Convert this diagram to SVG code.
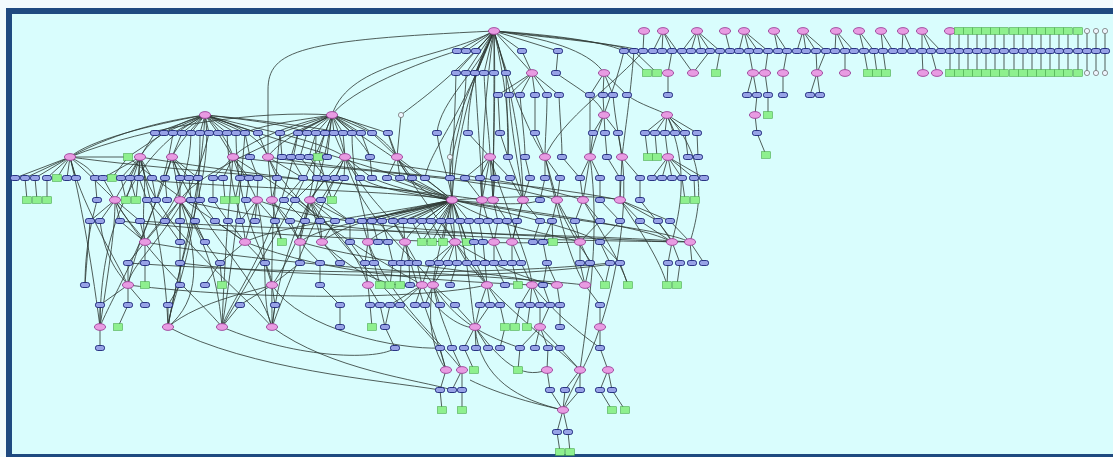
<svg xmlns="http://www.w3.org/2000/svg" xmlns:xlink="http://www.w3.org/1999/xlink" width="1113" height="457" viewBox="0 0 1113 457">
<defs>
<ellipse id="p" rx="5.6" ry="3.4" fill="#e89be2" stroke="#93368f" stroke-width="0.8"/>
<rect id="b" x="-4.6" y="-2.5" width="9.2" height="5" rx="2.3" fill="#97a2e6" stroke="#1a2478" stroke-width="0.9"/>
<rect id="g" x="-4.4" y="-3.3" width="8.8" height="6.6" fill="#8ef08e" stroke="#48aa48" stroke-width="0.6"/>
<circle id="c" r="2.6" fill="#eef6ff" stroke="#666" stroke-width="0.7"/>
</defs>
<rect x="0" y="0" width="1113" height="457" fill="#f2fbfd"/>
<rect x="12" y="14" width="1101" height="440" fill="#d9fdfd"/>
<rect x="6" y="8" width="1107" height="6" fill="#1f4a80"/>
<rect x="6" y="8" width="6" height="449" fill="#1f4a80"/>
<rect x="6" y="454" width="1107" height="3" fill="#1f4a80"/>
<g id="connectors" fill="none" stroke="#2c3833" stroke-width="0.9" stroke-opacity="0.9">
<path d="M494 31 L457 51"/><path d="M494 31 L466 51"/><path d="M494 31 L476 51"/><path d="M494 31 L522 51"/><path d="M494 31 L558 51"/>
<path d="M494 31 L456 73"/><path d="M494 31 L466 73"/><path d="M494 31 L475 73"/><path d="M494 31 L484 73"/><path d="M494 31 L494 73"/><path d="M494 31 L506 73"/><path d="M494 31 L532 73"/>
<path d="M494 31 C540 34 600 40 624 51"/><path d="M494 31 C545 36 610 42 634 51"/><path d="M494 31 C550 38 620 44 643 51"/><path d="M494 31 C560 40 592 55 604 73"/>
<path d="M494 31 C470 80 455 150 452 200"/><path d="M494 31 C485 90 482 150 482 200"/><path d="M494 31 C496 100 493 150 493 200"/><path d="M494 31 C505 80 510 120 508 157"/>
<path d="M494 31 C480 70 440 100 437 133"/><path d="M494 31 C476 60 468 100 468 133"/><path d="M494 31 C515 100 523 160 523 200"/><path d="M494 31 C460 120 430 150 425 178"/>
<path d="M494 31 C450 80 420 100 401 115"/><path d="M494 31 C520 120 540 150 545 157"/><path d="M494 31 C300 40 268 50 268 90 L268 157"/><path d="M494 31 C440 60 350 60 332 115"/>
<path d="M494 31 C460 110 450 140 450 157"/><path d="M457 51 C420 62 350 90 332 115"/>
<path d="M522 51 L532 73"/><path d="M558 51 L556 73"/>
<path d="M456 73 C455 120 452 160 452 200"/><path d="M466 73 C466 120 450 150 450 178"/><path d="M475 73 C478 130 482 170 482 200"/><path d="M484 73 C486 120 490 140 490 157"/><path d="M494 73 C494 130 493 170 493 200"/><path d="M506 73 C507 110 508 140 508 157"/>
<path d="M532 73 L498 95"/><path d="M532 73 L509 95"/><path d="M532 73 L520 95"/><path d="M532 73 L535 95"/><path d="M532 73 L547 95"/><path d="M532 73 L559 95"/>
<path d="M556 73 C580 90 600 100 604 115"/>
<path d="M604 73 L590 95"/><path d="M604 73 L603 95"/><path d="M604 73 L613 95"/><path d="M604 73 L627 95"/>
<path d="M498 95 L500 133"/><path d="M509 95 C512 140 520 170 523 200"/><path d="M520 95 C522 120 525 140 525 157"/><path d="M535 95 L535 133"/><path d="M547 95 C547 120 545 140 545 157"/><path d="M559 95 C560 120 562 140 562 157"/>
<path d="M590 95 C590 120 590 140 590 157"/><path d="M603 95 L604 115"/><path d="M613 95 C615 120 620 140 622 157"/><path d="M627 95 C640 105 660 110 667 115"/>
<path d="M604 115 L593 133"/><path d="M604 115 L605 133"/><path d="M604 115 L618 133"/>
<path d="M593 133 L590 157"/><path d="M605 133 L607 157"/><path d="M618 133 L622 157"/>
<path d="M667 115 L645 133"/><path d="M667 115 L655 133"/><path d="M667 115 L665 133"/><path d="M667 115 L675 133"/><path d="M667 115 L685 133"/><path d="M667 115 L697 133"/>
<path d="M645 133 L648 157"/><path d="M655 133 L657 157"/><path d="M665 133 L668 157"/><path d="M685 133 L688 157"/><path d="M697 133 L698 157"/>
<path d="M668 157 L652 178"/><path d="M668 157 L662 178"/><path d="M668 157 L672 178"/><path d="M668 157 L682 178"/><path d="M668 157 L694 178"/><path d="M668 157 L704 178"/>
<path d="M682 178 L685 200"/><path d="M694 178 L695 200"/>
<path d="M667 115 C710 160 700 210 690 242"/><path d="M667 115 C690 170 680 210 672 242"/>
<path d="M644 31 L643 51"/>
<path d="M663 31 L653 51"/><path d="M663 31 L662 51"/><path d="M663 31 L672 51"/><path d="M663 31 L693 73"/><path d="M672 51 L668 73"/><path d="M668 73 L668 95"/>
<path d="M697 31 L682 51"/><path d="M697 31 L691 51"/><path d="M697 31 L701 51"/><path d="M697 31 L710 51"/><path d="M710 51 L693 73"/><path d="M697 31 L720 51"/><path d="M720 51 L716 73"/>
<path d="M725 31 L730 51"/>
<path d="M744 31 L739 51"/><path d="M744 31 L749 51"/><path d="M744 31 L758 51"/><path d="M744 31 L768 51"/><path d="M749 51 L753 73"/><path d="M768 51 L765 73"/>
<path d="M774 31 L778 51"/><path d="M774 31 L787 51"/><path d="M787 51 L783 73"/>
<path d="M803 31 L797 51"/><path d="M803 31 L806 51"/><path d="M803 31 L816 51"/><path d="M803 31 L826 51"/><path d="M816 51 L817 73"/><path d="M826 51 L817 73"/>
<path d="M836 31 L835 51"/><path d="M836 31 L845 51"/><path d="M836 31 L854 51"/><path d="M845 51 L845 73"/>
<path d="M859 31 L864 51"/><path d="M859 31 L874 51"/><path d="M864 51 L868 73"/><path d="M874 51 L877 73"/>
<path d="M881 31 L883 51"/><path d="M881 31 L893 51"/><path d="M883 51 L886 73"/>
<path d="M903 31 L902 51"/><path d="M903 31 L912 51"/>
<path d="M922 31 L922 51"/><path d="M922 31 L931 51"/><path d="M922 31 L941 51"/><path d="M922 51 L923 73"/><path d="M931 51 L937 73"/>
<path d="M950 31 L950 73"/><path d="M959 31 L959 73"/><path d="M968 31 L968 73"/><path d="M977 31 L977 73"/><path d="M986 31 L986 73"/><path d="M995 31 L995 73"/><path d="M1004 31 L1004 73"/><path d="M1014 31 L1014 73"/><path d="M1023 31 L1023 73"/><path d="M1032 31 L1032 73"/><path d="M1041 31 L1041 73"/><path d="M1050 31 L1050 73"/><path d="M1059 31 L1059 73"/><path d="M1068 31 L1068 73"/><path d="M1078 31 L1078 73"/>
<path d="M1087 31 L1087 73"/><path d="M1096 31 L1096 73"/><path d="M1105 31 L1105 73"/>
<path d="M753 73 L747 95"/><path d="M753 73 L757 95"/><path d="M765 73 L768 95"/><path d="M783 73 L783 95"/><path d="M817 73 L810 95"/><path d="M817 73 L820 95"/>
<path d="M757 95 L755 115"/><path d="M768 95 L768 115"/><path d="M755 115 L757 133"/><path d="M757 133 L766 155"/>
<path d="M624 51 C615 90 600 120 590 157"/><path d="M634 51 C630 100 625 130 622 157"/><path d="M643 51 C620 80 560 120 545 157"/><path d="M624 51 L647 73"/><path d="M634 51 L657 73"/>
<path d="M205 115 L155 133"/><path d="M205 115 L164 133"/><path d="M205 115 L173 133"/><path d="M205 115 L182 133"/><path d="M205 115 L191 133"/><path d="M205 115 L200 133"/><path d="M205 115 L209 133"/><path d="M205 115 L218 133"/><path d="M205 115 L227 133"/><path d="M205 115 L236 133"/><path d="M205 115 L245 133"/><path d="M205 115 L258 133"/>
<path d="M205 115 C150 125 90 140 70 157"/><path d="M205 115 C170 125 150 140 140 157"/><path d="M205 115 C190 130 178 145 172 157"/><path d="M205 115 C220 130 230 145 233 157"/><path d="M205 115 C240 125 262 140 268 157"/><path d="M205 115 C260 130 320 140 345 157"/>
<path d="M205 115 C300 150 400 170 452 200"/><path d="M205 115 C250 120 290 125 307 133"/><path d="M205 115 C260 120 320 128 343 133"/>
<path d="M332 115 L280 133"/><path d="M332 115 L298 133"/><path d="M332 115 L307 133"/><path d="M332 115 L316 133"/><path d="M332 115 L325 133"/><path d="M332 115 L334 133"/><path d="M332 115 L343 133"/><path d="M332 115 L352 133"/><path d="M332 115 L361 133"/><path d="M332 115 L372 133"/><path d="M332 115 L388 133"/>
<path d="M332 115 C290 125 250 140 233 157"/><path d="M332 115 C300 130 275 145 268 157"/><path d="M332 115 C338 130 343 145 345 157"/><path d="M332 115 C370 125 390 145 397 157"/><path d="M332 115 C350 130 365 145 370 157"/>
<path d="M332 115 C280 140 200 170 180 200"/><path d="M332 115 C380 150 430 180 452 200"/><path d="M332 115 C300 120 260 125 245 133"/><path d="M332 115 L327 157"/>
<path d="M401 115 L397 157"/><path d="M70 157 C150 125 260 110 332 115"/><path d="M70 157 C120 130 170 120 205 115"/>
<path d="M155 133 L140 157"/><path d="M164 133 L128 157"/><path d="M182 133 L172 157"/><path d="M218 133 L233 157"/><path d="M245 133 L250 157"/><path d="M258 133 L268 157"/><path d="M280 133 L282 157"/><path d="M298 133 L291 157"/><path d="M307 133 L300 157"/><path d="M316 133 L309 157"/><path d="M325 133 L318 157"/><path d="M343 133 L345 157"/><path d="M361 133 L370 157"/><path d="M372 133 L397 157"/><path d="M388 133 L397 157"/>
<path d="M437 133 C440 160 450 180 452 200"/><path d="M468 133 L490 157"/><path d="M500 133 L508 157"/><path d="M535 133 L545 157"/>
<path d="M191 133 C190 200 150 230 145 242"/><path d="M227 133 C230 200 245 220 245 242"/><path d="M236 133 C236 220 270 260 272 285"/><path d="M209 133 C190 220 130 260 128 285"/><path d="M173 133 C160 220 110 300 100 327"/><path d="M200 133 C200 250 170 300 168 327"/>
<path d="M316 133 C316 200 300 220 300 242"/><path d="M352 133 C352 190 370 220 368 242"/><path d="M334 133 C360 200 400 220 405 242"/><path d="M298 133 C280 240 230 300 222 327"/><path d="M280 133 C270 230 272 280 272 327"/><path d="M388 133 C400 180 430 200 452 200"/><path d="M245 133 C240 200 230 280 222 327"/>
<path d="M70 157 L15 178"/><path d="M70 157 L25 178"/><path d="M70 157 L35 178"/><path d="M70 157 L47 178"/><path d="M70 157 L57 178"/><path d="M70 157 L67 178"/><path d="M70 157 L76 178"/>
<path d="M25 178 L27 200"/><path d="M35 178 L37 200"/><path d="M47 178 L47 200"/>
<path d="M70 157 L128 157"/><path d="M70 157 C85 165 92 170 95 178"/><path d="M70 157 C90 175 105 190 115 200"/>
<path d="M140 157 L121 178"/><path d="M140 157 L130 178"/><path d="M140 157 L139 178"/><path d="M140 157 L152 178"/><path d="M140 157 L103 178"/><path d="M140 157 C130 175 120 190 115 200"/><path d="M140 157 L126 200"/><path d="M140 157 L136 200"/>
<path d="M128 157 L112 178"/>
<path d="M172 157 L165 178"/><path d="M172 157 L180 178"/><path d="M172 157 L189 178"/><path d="M172 157 L198 178"/><path d="M172 157 L180 200"/>
<path d="M95 178 L97 200"/><path d="M103 178 L115 200"/><path d="M121 178 L126 200"/><path d="M130 178 L136 200"/><path d="M139 178 L147 200"/><path d="M152 178 L156 200"/><path d="M165 178 L167 200"/><path d="M180 178 L180 200"/><path d="M189 178 L191 200"/><path d="M198 178 L200 200"/><path d="M213 178 L213 200"/><path d="M223 178 L225 200"/><path d="M240 178 L235 200"/><path d="M249 178 L246 200"/><path d="M258 178 L257 200"/><path d="M277 178 L272 200"/><path d="M303 178 L284 200"/><path d="M317 178 L295 200"/><path d="M326 178 L310 200"/><path d="M335 178 L321 200"/><path d="M344 178 L332 200"/>
<path d="M233 157 L213 178"/><path d="M233 157 L223 178"/><path d="M233 157 L240 178"/><path d="M233 157 L249 178"/><path d="M233 157 C245 175 252 190 257 200"/>
<path d="M250 157 L258 178"/><path d="M268 157 L277 178"/><path d="M268 157 L303 178"/><path d="M268 157 L272 200"/>
<path d="M291 157 L303 178"/><path d="M300 157 L317 178"/><path d="M309 157 L326 178"/><path d="M318 157 L332 200"/>
<path d="M345 157 L335 178"/><path d="M345 157 L344 178"/><path d="M345 157 L360 178"/><path d="M345 157 L372 178"/><path d="M345 157 C330 175 315 190 310 200"/>
<path d="M370 157 L372 178"/><path d="M397 157 L387 178"/><path d="M397 157 L400 178"/><path d="M397 157 L412 178"/><path d="M397 157 L425 178"/>
<path d="M450 157 L450 178"/>
<path d="M490 157 L465 178"/><path d="M490 157 L480 178"/><path d="M490 157 L495 178"/><path d="M490 157 L510 178"/><path d="M490 157 L482 200"/><path d="M490 157 L493 200"/>
<path d="M508 157 C515 175 520 190 523 200"/><path d="M525 157 L530 178"/>
<path d="M545 157 L545 178"/><path d="M545 157 L560 178"/><path d="M545 157 L557 200"/><path d="M562 157 L580 178"/>
<path d="M590 157 L580 178"/><path d="M590 157 L600 178"/><path d="M590 157 L583 200"/><path d="M607 157 L620 178"/><path d="M622 157 L640 178"/><path d="M622 157 L620 200"/>
<path d="M360 178 C380 190 420 195 452 200"/><path d="M372 178 C400 190 430 195 452 200"/><path d="M387 178 L452 200"/><path d="M400 178 L452 200"/><path d="M412 178 L452 200"/><path d="M425 178 L452 200"/><path d="M450 178 L452 200"/>
<path d="M465 178 L482 200"/><path d="M480 178 L482 200"/><path d="M495 178 L493 200"/><path d="M510 178 L523 200"/><path d="M530 178 L523 200"/><path d="M545 178 L540 200"/><path d="M560 178 L557 200"/><path d="M580 178 L583 200"/><path d="M600 178 L600 200"/><path d="M620 178 L620 200"/><path d="M640 178 L640 200"/>
<path d="M115 200 L90 221"/><path d="M115 200 L100 221"/><path d="M115 200 L120 221"/><path d="M115 200 L140 221"/><path d="M115 200 C125 220 140 232 145 242"/>
<path d="M180 200 L165 221"/><path d="M180 200 L180 221"/><path d="M180 200 L195 221"/><path d="M180 200 L145 242"/><path d="M180 200 L180 242"/><path d="M180 200 L205 242"/>
<path d="M147 200 L165 221"/><path d="M200 200 L215 221"/><path d="M213 200 L228 221"/>
<path d="M257 200 L240 221"/><path d="M257 200 L255 221"/><path d="M257 200 L275 221"/><path d="M257 200 L245 242"/>
<path d="M272 200 L290 221"/><path d="M272 200 C275 220 280 232 282 242"/><path d="M272 200 C285 220 295 232 300 242"/>
<path d="M284 200 L305 221"/><path d="M295 200 L320 221"/>
<path d="M310 200 L305 221"/><path d="M310 200 L320 221"/><path d="M310 200 L335 221"/><path d="M310 200 L350 221"/><path d="M310 200 L322 242"/><path d="M321 200 L350 221"/>
<path d="M452 200 L403 221"/><path d="M452 200 L412 221"/><path d="M452 200 L422 221"/><path d="M452 200 L431 221"/><path d="M452 200 L441 221"/><path d="M452 200 L450 221"/><path d="M452 200 L460 221"/><path d="M452 200 L469 221"/><path d="M452 200 L362 221"/><path d="M452 200 L372 221"/><path d="M452 200 L382 221"/><path d="M452 200 L393 221"/>
<path d="M452 200 C430 215 410 230 405 242"/><path d="M452 200 C440 220 425 235 422 242"/><path d="M452 200 C445 220 435 235 432 242"/><path d="M452 200 L443 242"/><path d="M452 200 L455 242"/><path d="M452 200 L467 242"/>
<path d="M452 200 C380 215 280 225 245 242"/><path d="M452 200 C400 215 320 225 300 242"/><path d="M452 200 C410 220 380 230 368 242"/><path d="M452 200 C430 210 380 215 350 221"/><path d="M452 200 C550 215 640 225 672 242"/><path d="M452 200 C560 220 660 228 690 242"/>
<path d="M452 200 C500 230 560 235 580 242"/><path d="M452 200 C500 205 530 205 540 200"/><path d="M452 200 C530 195 600 195 620 200"/><path d="M452 200 C520 215 580 230 600 242"/><path d="M452 200 C400 210 340 225 322 242"/>
<path d="M482 200 L479 221"/><path d="M482 200 L488 221"/><path d="M493 200 L498 221"/><path d="M493 200 L507 221"/>
<path d="M523 200 L517 221"/><path d="M523 200 L512 242"/><path d="M523 200 L540 221"/>
<path d="M557 200 L552 221"/><path d="M557 200 L580 242"/><path d="M583 200 L575 221"/><path d="M583 200 L600 221"/><path d="M600 200 L620 221"/>
<path d="M620 200 L640 221"/><path d="M620 200 L658 221"/><path d="M620 200 L670 221"/><path d="M640 200 C655 220 668 232 672 242"/>
<path d="M120 221 L145 242"/><path d="M140 221 L145 242"/><path d="M165 221 L180 242"/><path d="M180 221 L180 242"/><path d="M195 221 L205 242"/><path d="M215 221 L245 242"/><path d="M228 221 L245 242"/><path d="M275 221 L282 242"/><path d="M290 221 L300 242"/><path d="M305 221 L300 242"/><path d="M320 221 L322 242"/><path d="M335 221 L322 242"/><path d="M350 221 L350 242"/>
<path d="M362 221 L368 242"/><path d="M372 221 L378 242"/><path d="M382 221 L388 242"/><path d="M393 221 L405 242"/><path d="M403 221 L405 242"/><path d="M412 221 L422 242"/><path d="M422 221 L432 242"/><path d="M431 221 L443 242"/><path d="M441 221 L455 242"/><path d="M450 221 L455 242"/><path d="M460 221 L467 242"/><path d="M469 221 L474 242"/>
<path d="M479 221 L483 242"/><path d="M488 221 L494 242"/><path d="M498 221 L494 242"/><path d="M507 221 L512 242"/><path d="M517 221 L512 242"/><path d="M540 221 L533 242"/><path d="M552 221 L543 242"/><path d="M552 221 L553 242"/><path d="M575 221 L580 242"/><path d="M600 221 L580 242"/><path d="M620 221 L600 242"/><path d="M640 221 L672 242"/><path d="M658 221 L672 242"/><path d="M670 221 L690 242"/>
<path d="M90 221 C88 250 86 270 85 285"/><path d="M100 221 C105 260 120 275 128 285"/>
<path d="M145 242 L128 263"/><path d="M145 242 L145 263"/><path d="M180 242 L180 263"/><path d="M205 242 L220 263"/><path d="M245 242 L220 263"/><path d="M245 242 L265 263"/><path d="M300 242 L300 263"/><path d="M300 242 L320 263"/><path d="M322 242 L340 263"/><path d="M350 242 L365 263"/><path d="M368 242 L365 263"/><path d="M368 242 L374 263"/><path d="M388 242 L393 263"/>
<path d="M405 242 L401 263"/><path d="M405 242 L409 263"/><path d="M405 242 L417 263"/><path d="M455 242 L430 263"/><path d="M455 242 L439 263"/><path d="M455 242 L448 263"/><path d="M455 242 L457 263"/><path d="M455 242 L467 263"/>
<path d="M474 242 L476 263"/><path d="M483 242 L485 263"/><path d="M494 242 L494 263"/><path d="M494 242 L503 263"/><path d="M512 242 L512 263"/><path d="M512 242 L521 263"/><path d="M543 242 L547 263"/><path d="M580 242 L580 263"/><path d="M580 242 L590 263"/><path d="M600 242 L610 263"/><path d="M600 242 L620 263"/>
<path d="M672 242 L668 263"/><path d="M672 242 L680 263"/><path d="M690 242 L692 263"/><path d="M690 242 L704 263"/>
<path d="M128 263 L128 285"/><path d="M145 263 L145 285"/><path d="M180 263 L180 285"/><path d="M220 263 L222 285"/><path d="M220 263 L205 285"/><path d="M265 263 L272 285"/><path d="M300 263 L272 285"/><path d="M320 263 L320 285"/><path d="M365 263 L368 285"/><path d="M374 263 L380 285"/><path d="M393 263 L390 285"/><path d="M401 263 L400 285"/><path d="M409 263 L410 285"/><path d="M417 263 L422 285"/><path d="M430 263 L422 285"/>
<path d="M439 263 L433 285"/><path d="M448 263 L433 285"/><path d="M457 263 L450 285"/><path d="M467 263 L487 285"/><path d="M476 263 L487 285"/><path d="M485 263 L487 285"/><path d="M494 263 L505 285"/><path d="M512 263 L518 285"/><path d="M521 263 L532 285"/><path d="M547 263 L557 285"/><path d="M547 263 L543 285"/><path d="M580 263 L585 285"/><path d="M590 263 L585 285"/><path d="M610 263 L605 285"/><path d="M620 263 L628 285"/><path d="M668 263 L667 285"/><path d="M680 263 L677 285"/>
<path d="M128 285 L100 305"/><path d="M128 285 L128 305"/><path d="M128 285 L145 305"/><path d="M180 285 L168 305"/><path d="M272 285 L240 305"/><path d="M272 285 L275 305"/><path d="M320 285 L340 305"/><path d="M368 285 L370 305"/><path d="M368 285 L380 305"/><path d="M422 285 L390 305"/><path d="M422 285 L400 305"/><path d="M422 285 L415 305"/>
<path d="M433 285 L425 305"/><path d="M433 285 L440 305"/><path d="M433 285 L455 305"/><path d="M487 285 L480 305"/><path d="M487 285 L490 305"/><path d="M487 285 L500 305"/><path d="M532 285 L520 305"/><path d="M532 285 L530 305"/><path d="M532 285 L540 305"/><path d="M543 285 L550 305"/><path d="M557 285 L560 305"/><path d="M585 285 L600 305"/>
<path d="M100 305 L100 327"/><path d="M128 305 L118 327"/><path d="M168 305 L168 327"/><path d="M240 305 L222 327"/><path d="M275 305 L272 327"/><path d="M340 305 L340 327"/><path d="M370 305 L372 327"/><path d="M380 305 L385 327"/><path d="M390 305 L385 327"/><path d="M480 305 L475 327"/><path d="M490 305 L475 327"/><path d="M455 305 L475 327"/><path d="M500 305 L505 327"/><path d="M520 305 L515 327"/><path d="M530 305 L527 327"/><path d="M540 305 L540 327"/><path d="M550 305 L540 327"/><path d="M560 305 L560 327"/><path d="M600 305 L600 327"/>
<path d="M100 327 L100 348"/><path d="M385 327 L395 348"/><path d="M475 327 L464 348"/><path d="M475 327 L476 348"/><path d="M475 327 L488 348"/><path d="M505 327 L500 348"/><path d="M540 327 L520 348"/><path d="M540 327 L535 348"/><path d="M540 327 L548 348"/><path d="M540 327 L560 348"/><path d="M600 327 L600 348"/>
<path d="M440 348 L446 370"/><path d="M452 348 L462 370"/><path d="M464 348 L474 370"/><path d="M520 348 L518 370"/><path d="M548 348 L547 370"/><path d="M560 348 L580 370"/><path d="M600 348 L608 370"/>
<path d="M446 370 L440 390"/><path d="M462 370 L452 390"/><path d="M462 370 L462 390"/><path d="M547 370 L550 390"/><path d="M580 370 L565 390"/><path d="M580 370 L580 390"/><path d="M608 370 L600 390"/><path d="M608 370 L612 390"/>
<path d="M440 390 L442 410"/><path d="M462 390 L462 410"/><path d="M550 390 L563 410"/><path d="M565 390 L563 410"/><path d="M580 390 L563 410"/><path d="M600 390 L612 410"/><path d="M612 390 L625 410"/>
<path d="M563 410 L557 432"/><path d="M563 410 L568 432"/><path d="M557 432 L560 452"/><path d="M568 432 L570 452"/><path d="M470 380 C500 395 540 405 563 410"/>
<path d="M168 327 C165 250 150 200 140 157"/><path d="M168 327 C180 250 215 170 205 115"/><path d="M222 327 C225 250 230 190 233 157"/><path d="M222 327 C215 250 190 220 180 200"/><path d="M272 327 C280 260 300 220 310 200"/><path d="M272 327 C300 250 330 190 345 157"/>
<path d="M100 327 C90 250 80 200 70 157"/><path d="M100 327 C110 260 115 230 115 200"/><path d="M168 327 C200 300 260 290 272 285"/><path d="M128 285 C140 230 160 200 172 157"/><path d="M145 242 C140 200 150 180 140 157"/><path d="M85 285 C85 240 95 210 97 200"/>
<path d="M121 178 C250 190 400 190 452 200"/><path d="M70 157 C200 175 380 180 452 200"/><path d="M140 157 C280 180 420 190 482 200"/><path d="M345 157 C420 170 520 180 583 200"/><path d="M233 157 C330 170 480 175 557 200"/><path d="M268 157 C380 175 520 180 620 200"/>
<path d="M257 200 C350 235 550 235 672 242"/><path d="M180 200 C350 240 560 240 690 242"/><path d="M145 242 C300 270 500 275 585 285"/><path d="M128 285 C250 300 420 300 487 285"/><path d="M245 242 C330 275 430 280 532 285"/><path d="M300 242 C380 265 480 270 557 285"/>
<path d="M455 242 C500 270 530 280 557 285"/><path d="M322 242 C360 280 400 290 422 285"/><path d="M405 242 C420 300 435 330 446 370"/><path d="M368 242 C390 300 440 340 462 370"/><path d="M272 285 C300 330 400 350 440 348"/><path d="M222 327 C300 360 380 360 395 348"/>
<path d="M168 327 C250 370 380 380 440 390"/><path d="M272 327 C330 370 420 380 452 390"/><path d="M475 327 C500 360 520 380 547 370"/><path d="M487 285 C520 320 560 350 580 370"/><path d="M532 285 C560 320 590 340 600 348"/><path d="M422 285 C440 320 470 330 475 327"/>
<path d="M433 285 C460 330 500 340 520 348"/><path d="M433 285 C440 320 450 335 452 348"/><path d="M600 327 C590 360 570 390 563 410"/><path d="M475 327 C480 380 520 400 563 410"/><path d="M620 200 C640 230 660 260 667 285"/><path d="M583 200 C600 230 620 260 628 285"/><path d="M557 200 C570 240 600 270 605 285"/>
<path d="M140 221 C300 232 550 232 690 242"/><path d="M120 221 C300 240 500 245 580 242"/><path d="M128 263 C300 275 500 275 610 263"/><path d="M180 263 C320 280 500 280 620 263"/>
<path d="M205 115 C120 160 100 250 100 327"/><path d="M205 115 C200 200 180 260 168 327"/><path d="M332 115 C300 200 260 260 222 327"/><path d="M332 115 C320 200 290 260 272 285"/>
<path d="M140 157 C150 220 230 280 272 327"/><path d="M172 157 C200 230 260 280 272 327"/><path d="M70 157 C80 200 110 250 128 285"/><path d="M233 157 C300 200 350 230 368 285"/>
<path d="M268 157 C300 220 380 260 422 285"/><path d="M345 157 C360 220 420 260 433 285"/><path d="M397 157 C420 200 470 260 487 285"/><path d="M180 200 C200 260 200 300 168 327"/>
<path d="M257 200 C270 260 260 300 272 327"/><path d="M115 200 C150 260 200 300 222 327"/><path d="M310 200 C350 260 400 300 440 348"/><path d="M452 200 C470 260 470 300 475 327"/>
<path d="M452 200 C430 280 420 330 446 370"/><path d="M490 157 C510 220 530 260 532 285"/><path d="M545 157 C560 220 570 260 585 285"/><path d="M622 157 C630 220 610 300 600 327"/>
<path d="M590 157 C600 230 590 300 580 370"/><path d="M128 157 C180 200 230 230 245 242"/>
</g>
<g id="n1"><use href="#p" x="494" y="31"/></g>
<g id="n2"><use href="#p" x="644" y="31"/></g>
<g id="n3"><use href="#p" x="663" y="31"/></g>
<g id="n4"><use href="#p" x="697" y="31"/></g>
<g id="n5"><use href="#p" x="725" y="31"/></g>
<g id="n6"><use href="#p" x="744" y="31"/></g>
<g id="n7"><use href="#p" x="774" y="31"/></g>
<g id="n8"><use href="#p" x="803" y="31"/></g>
<g id="n9"><use href="#p" x="836" y="31"/></g>
<g id="n10"><use href="#p" x="859" y="31"/></g>
<g id="n11"><use href="#p" x="881" y="31"/></g>
<g id="n12"><use href="#p" x="903" y="31"/></g>
<g id="n13"><use href="#p" x="922" y="31"/></g>
<g id="n14"><use href="#p" x="950" y="31"/></g>
<g id="n15"><use href="#g" x="959" y="31"/></g>
<g id="n16"><use href="#g" x="968" y="31"/></g>
<g id="n17"><use href="#g" x="977" y="31"/></g>
<g id="n18"><use href="#g" x="986" y="31"/></g>
<g id="n19"><use href="#g" x="995" y="31"/></g>
<g id="n20"><use href="#g" x="1004" y="31"/></g>
<g id="n21"><use href="#g" x="1014" y="31"/></g>
<g id="n22"><use href="#g" x="1023" y="31"/></g>
<g id="n23"><use href="#g" x="1032" y="31"/></g>
<g id="n24"><use href="#g" x="1041" y="31"/></g>
<g id="n25"><use href="#g" x="1050" y="31"/></g>
<g id="n26"><use href="#g" x="1059" y="31"/></g>
<g id="n27"><use href="#g" x="1068" y="31"/></g>
<g id="n28"><use href="#g" x="1078" y="31"/></g>
<g id="n29"><use href="#c" x="1087" y="31"/></g>
<g id="n30"><use href="#c" x="1096" y="31"/></g>
<g id="n31"><use href="#c" x="1105" y="31"/></g>
<g id="n32"><use href="#b" x="457" y="51"/></g>
<g id="n33"><use href="#b" x="466" y="51"/></g>
<g id="n34"><use href="#b" x="476" y="51"/></g>
<g id="n35"><use href="#b" x="522" y="51"/></g>
<g id="n36"><use href="#b" x="558" y="51"/></g>
<g id="n37"><use href="#b" x="624" y="51"/></g>
<g id="n38"><use href="#b" x="634" y="51"/></g>
<g id="n39"><use href="#b" x="643" y="51"/></g>
<g id="n40"><use href="#b" x="653" y="51"/></g>
<g id="n41"><use href="#b" x="662" y="51"/></g>
<g id="n42"><use href="#b" x="672" y="51"/></g>
<g id="n43"><use href="#b" x="682" y="51"/></g>
<g id="n44"><use href="#b" x="691" y="51"/></g>
<g id="n45"><use href="#b" x="701" y="51"/></g>
<g id="n46"><use href="#b" x="710" y="51"/></g>
<g id="n47"><use href="#b" x="720" y="51"/></g>
<g id="n48"><use href="#b" x="730" y="51"/></g>
<g id="n49"><use href="#b" x="739" y="51"/></g>
<g id="n50"><use href="#b" x="749" y="51"/></g>
<g id="n51"><use href="#b" x="758" y="51"/></g>
<g id="n52"><use href="#b" x="768" y="51"/></g>
<g id="n53"><use href="#b" x="778" y="51"/></g>
<g id="n54"><use href="#b" x="787" y="51"/></g>
<g id="n55"><use href="#b" x="797" y="51"/></g>
<g id="n56"><use href="#b" x="806" y="51"/></g>
<g id="n57"><use href="#b" x="816" y="51"/></g>
<g id="n58"><use href="#b" x="826" y="51"/></g>
<g id="n59"><use href="#b" x="835" y="51"/></g>
<g id="n60"><use href="#b" x="845" y="51"/></g>
<g id="n61"><use href="#b" x="854" y="51"/></g>
<g id="n62"><use href="#b" x="864" y="51"/></g>
<g id="n63"><use href="#b" x="874" y="51"/></g>
<g id="n64"><use href="#b" x="883" y="51"/></g>
<g id="n65"><use href="#b" x="893" y="51"/></g>
<g id="n66"><use href="#b" x="902" y="51"/></g>
<g id="n67"><use href="#b" x="912" y="51"/></g>
<g id="n68"><use href="#b" x="922" y="51"/></g>
<g id="n69"><use href="#b" x="931" y="51"/></g>
<g id="n70"><use href="#b" x="941" y="51"/></g>
<g id="n71"><use href="#b" x="950" y="51"/></g>
<g id="n72"><use href="#b" x="959" y="51"/></g>
<g id="n73"><use href="#b" x="968" y="51"/></g>
<g id="n74"><use href="#b" x="977" y="51"/></g>
<g id="n75"><use href="#b" x="986" y="51"/></g>
<g id="n76"><use href="#b" x="995" y="51"/></g>
<g id="n77"><use href="#b" x="1004" y="51"/></g>
<g id="n78"><use href="#b" x="1014" y="51"/></g>
<g id="n79"><use href="#b" x="1023" y="51"/></g>
<g id="n80"><use href="#b" x="1032" y="51"/></g>
<g id="n81"><use href="#b" x="1041" y="51"/></g>
<g id="n82"><use href="#b" x="1050" y="51"/></g>
<g id="n83"><use href="#b" x="1059" y="51"/></g>
<g id="n84"><use href="#b" x="1068" y="51"/></g>
<g id="n85"><use href="#b" x="1078" y="51"/></g>
<g id="n86"><use href="#b" x="1087" y="51"/></g>
<g id="n87"><use href="#b" x="1096" y="51"/></g>
<g id="n88"><use href="#b" x="1105" y="51"/></g>
<g id="n89"><use href="#b" x="456" y="73"/></g>
<g id="n90"><use href="#b" x="466" y="73"/></g>
<g id="n91"><use href="#b" x="475" y="73"/></g>
<g id="n92"><use href="#b" x="484" y="73"/></g>
<g id="n93"><use href="#b" x="494" y="73"/></g>
<g id="n94"><use href="#b" x="506" y="73"/></g>
<g id="n95"><use href="#p" x="532" y="73"/></g>
<g id="n96"><use href="#b" x="556" y="73"/></g>
<g id="n97"><use href="#p" x="604" y="73"/></g>
<g id="n98"><use href="#g" x="647" y="73"/></g>
<g id="n99"><use href="#g" x="657" y="73"/></g>
<g id="n100"><use href="#p" x="668" y="73"/></g>
<g id="n101"><use href="#p" x="693" y="73"/></g>
<g id="n102"><use href="#g" x="716" y="73"/></g>
<g id="n103"><use href="#p" x="753" y="73"/></g>
<g id="n104"><use href="#p" x="765" y="73"/></g>
<g id="n105"><use href="#p" x="783" y="73"/></g>
<g id="n106"><use href="#p" x="817" y="73"/></g>
<g id="n107"><use href="#p" x="845" y="73"/></g>
<g id="n108"><use href="#g" x="868" y="73"/></g>
<g id="n109"><use href="#g" x="877" y="73"/></g>
<g id="n110"><use href="#g" x="886" y="73"/></g>
<g id="n111"><use href="#p" x="923" y="73"/></g>
<g id="n112"><use href="#p" x="937" y="73"/></g>
<g id="n113"><use href="#g" x="950" y="73"/></g>
<g id="n114"><use href="#g" x="959" y="73"/></g>
<g id="n115"><use href="#g" x="968" y="73"/></g>
<g id="n116"><use href="#g" x="977" y="73"/></g>
<g id="n117"><use href="#g" x="986" y="73"/></g>
<g id="n118"><use href="#g" x="995" y="73"/></g>
<g id="n119"><use href="#g" x="1004" y="73"/></g>
<g id="n120"><use href="#g" x="1014" y="73"/></g>
<g id="n121"><use href="#g" x="1023" y="73"/></g>
<g id="n122"><use href="#g" x="1032" y="73"/></g>
<g id="n123"><use href="#g" x="1041" y="73"/></g>
<g id="n124"><use href="#g" x="1050" y="73"/></g>
<g id="n125"><use href="#g" x="1059" y="73"/></g>
<g id="n126"><use href="#g" x="1068" y="73"/></g>
<g id="n127"><use href="#g" x="1078" y="73"/></g>
<g id="n128"><use href="#c" x="1087" y="73"/></g>
<g id="n129"><use href="#c" x="1096" y="73"/></g>
<g id="n130"><use href="#c" x="1105" y="73"/></g>
<g id="n131"><use href="#b" x="498" y="95"/></g>
<g id="n132"><use href="#b" x="509" y="95"/></g>
<g id="n133"><use href="#b" x="520" y="95"/></g>
<g id="n134"><use href="#b" x="535" y="95"/></g>
<g id="n135"><use href="#b" x="547" y="95"/></g>
<g id="n136"><use href="#b" x="559" y="95"/></g>
<g id="n137"><use href="#b" x="590" y="95"/></g>
<g id="n138"><use href="#b" x="603" y="95"/></g>
<g id="n139"><use href="#b" x="613" y="95"/></g>
<g id="n140"><use href="#b" x="627" y="95"/></g>
<g id="n141"><use href="#b" x="668" y="95"/></g>
<g id="n142"><use href="#b" x="747" y="95"/></g>
<g id="n143"><use href="#b" x="757" y="95"/></g>
<g id="n144"><use href="#b" x="768" y="95"/></g>
<g id="n145"><use href="#b" x="783" y="95"/></g>
<g id="n146"><use href="#b" x="810" y="95"/></g>
<g id="n147"><use href="#b" x="820" y="95"/></g>
<g id="n148"><use href="#p" x="205" y="115"/></g>
<g id="n149"><use href="#p" x="332" y="115"/></g>
<g id="n150"><use href="#c" x="401" y="115"/></g>
<g id="n151"><use href="#p" x="604" y="115"/></g>
<g id="n152"><use href="#p" x="667" y="115"/></g>
<g id="n153"><use href="#p" x="755" y="115"/></g>
<g id="n154"><use href="#g" x="768" y="115"/></g>
<g id="n155"><use href="#b" x="155" y="133"/></g>
<g id="n156"><use href="#b" x="164" y="133"/></g>
<g id="n157"><use href="#b" x="173" y="133"/></g>
<g id="n158"><use href="#b" x="182" y="133"/></g>
<g id="n159"><use href="#b" x="191" y="133"/></g>
<g id="n160"><use href="#b" x="200" y="133"/></g>
<g id="n161"><use href="#b" x="209" y="133"/></g>
<g id="n162"><use href="#b" x="218" y="133"/></g>
<g id="n163"><use href="#b" x="227" y="133"/></g>
<g id="n164"><use href="#b" x="236" y="133"/></g>
<g id="n165"><use href="#b" x="245" y="133"/></g>
<g id="n166"><use href="#b" x="258" y="133"/></g>
<g id="n167"><use href="#b" x="280" y="133"/></g>
<g id="n168"><use href="#b" x="298" y="133"/></g>
<g id="n169"><use href="#b" x="307" y="133"/></g>
<g id="n170"><use href="#b" x="316" y="133"/></g>
<g id="n171"><use href="#b" x="325" y="133"/></g>
<g id="n172"><use href="#b" x="334" y="133"/></g>
<g id="n173"><use href="#b" x="343" y="133"/></g>
<g id="n174"><use href="#b" x="352" y="133"/></g>
<g id="n175"><use href="#b" x="361" y="133"/></g>
<g id="n176"><use href="#b" x="372" y="133"/></g>
<g id="n177"><use href="#b" x="388" y="133"/></g>
<g id="n178"><use href="#b" x="437" y="133"/></g>
<g id="n179"><use href="#b" x="468" y="133"/></g>
<g id="n180"><use href="#b" x="500" y="133"/></g>
<g id="n181"><use href="#b" x="535" y="133"/></g>
<g id="n182"><use href="#b" x="593" y="133"/></g>
<g id="n183"><use href="#b" x="605" y="133"/></g>
<g id="n184"><use href="#b" x="618" y="133"/></g>
<g id="n185"><use href="#b" x="645" y="133"/></g>
<g id="n186"><use href="#b" x="655" y="133"/></g>
<g id="n187"><use href="#b" x="665" y="133"/></g>
<g id="n188"><use href="#b" x="675" y="133"/></g>
<g id="n189"><use href="#b" x="685" y="133"/></g>
<g id="n190"><use href="#b" x="697" y="133"/></g>
<g id="n191"><use href="#b" x="757" y="133"/></g>
<g id="n192"><use href="#g" x="766" y="155"/></g>
<g id="n193"><use href="#p" x="70" y="157"/></g>
<g id="n194"><use href="#g" x="128" y="157"/></g>
<g id="n195"><use href="#p" x="140" y="157"/></g>
<g id="n196"><use href="#p" x="172" y="157"/></g>
<g id="n197"><use href="#p" x="233" y="157"/></g>
<g id="n198"><use href="#b" x="250" y="157"/></g>
<g id="n199"><use href="#p" x="268" y="157"/></g>
<g id="n200"><use href="#b" x="282" y="157"/></g>
<g id="n201"><use href="#b" x="291" y="157"/></g>
<g id="n202"><use href="#b" x="300" y="157"/></g>
<g id="n203"><use href="#b" x="309" y="157"/></g>
<g id="n204"><use href="#g" x="318" y="157"/></g>
<g id="n205"><use href="#b" x="327" y="157"/></g>
<g id="n206"><use href="#p" x="345" y="157"/></g>
<g id="n207"><use href="#b" x="370" y="157"/></g>
<g id="n208"><use href="#p" x="397" y="157"/></g>
<g id="n209"><use href="#c" x="450" y="157"/></g>
<g id="n210"><use href="#p" x="490" y="157"/></g>
<g id="n211"><use href="#b" x="508" y="157"/></g>
<g id="n212"><use href="#b" x="525" y="157"/></g>
<g id="n213"><use href="#p" x="545" y="157"/></g>
<g id="n214"><use href="#b" x="562" y="157"/></g>
<g id="n215"><use href="#p" x="590" y="157"/></g>
<g id="n216"><use href="#b" x="607" y="157"/></g>
<g id="n217"><use href="#p" x="622" y="157"/></g>
<g id="n218"><use href="#g" x="648" y="157"/></g>
<g id="n219"><use href="#g" x="657" y="157"/></g>
<g id="n220"><use href="#p" x="668" y="157"/></g>
<g id="n221"><use href="#b" x="688" y="157"/></g>
<g id="n222"><use href="#b" x="698" y="157"/></g>
<g id="n223"><use href="#b" x="15" y="178"/></g>
<g id="n224"><use href="#b" x="25" y="178"/></g>
<g id="n225"><use href="#b" x="35" y="178"/></g>
<g id="n226"><use href="#b" x="47" y="178"/></g>
<g id="n227"><use href="#g" x="57" y="178"/></g>
<g id="n228"><use href="#b" x="67" y="178"/></g>
<g id="n229"><use href="#b" x="76" y="178"/></g>
<g id="n230"><use href="#b" x="95" y="178"/></g>
<g id="n231"><use href="#b" x="103" y="178"/></g>
<g id="n232"><use href="#g" x="112" y="178"/></g>
<g id="n233"><use href="#b" x="121" y="178"/></g>
<g id="n234"><use href="#b" x="130" y="178"/></g>
<g id="n235"><use href="#b" x="139" y="178"/></g>
<g id="n236"><use href="#b" x="152" y="178"/></g>
<g id="n237"><use href="#b" x="165" y="178"/></g>
<g id="n238"><use href="#b" x="180" y="178"/></g>
<g id="n239"><use href="#b" x="189" y="178"/></g>
<g id="n240"><use href="#b" x="198" y="178"/></g>
<g id="n241"><use href="#b" x="213" y="178"/></g>
<g id="n242"><use href="#b" x="223" y="178"/></g>
<g id="n243"><use href="#b" x="240" y="178"/></g>
<g id="n244"><use href="#b" x="249" y="178"/></g>
<g id="n245"><use href="#b" x="258" y="178"/></g>
<g id="n246"><use href="#b" x="277" y="178"/></g>
<g id="n247"><use href="#b" x="303" y="178"/></g>
<g id="n248"><use href="#b" x="317" y="178"/></g>
<g id="n249"><use href="#b" x="326" y="178"/></g>
<g id="n250"><use href="#b" x="335" y="178"/></g>
<g id="n251"><use href="#b" x="344" y="178"/></g>
<g id="n252"><use href="#b" x="360" y="178"/></g>
<g id="n253"><use href="#b" x="372" y="178"/></g>
<g id="n254"><use href="#b" x="387" y="178"/></g>
<g id="n255"><use href="#b" x="400" y="178"/></g>
<g id="n256"><use href="#b" x="412" y="178"/></g>
<g id="n257"><use href="#b" x="425" y="178"/></g>
<g id="n258"><use href="#b" x="450" y="178"/></g>
<g id="n259"><use href="#b" x="465" y="178"/></g>
<g id="n260"><use href="#b" x="480" y="178"/></g>
<g id="n261"><use href="#b" x="495" y="178"/></g>
<g id="n262"><use href="#b" x="510" y="178"/></g>
<g id="n263"><use href="#b" x="530" y="178"/></g>
<g id="n264"><use href="#b" x="545" y="178"/></g>
<g id="n265"><use href="#b" x="560" y="178"/></g>
<g id="n266"><use href="#b" x="580" y="178"/></g>
<g id="n267"><use href="#b" x="600" y="178"/></g>
<g id="n268"><use href="#b" x="620" y="178"/></g>
<g id="n269"><use href="#b" x="640" y="178"/></g>
<g id="n270"><use href="#b" x="652" y="178"/></g>
<g id="n271"><use href="#b" x="662" y="178"/></g>
<g id="n272"><use href="#b" x="672" y="178"/></g>
<g id="n273"><use href="#b" x="682" y="178"/></g>
<g id="n274"><use href="#b" x="694" y="178"/></g>
<g id="n275"><use href="#b" x="704" y="178"/></g>
<g id="n276"><use href="#g" x="27" y="200"/></g>
<g id="n277"><use href="#g" x="37" y="200"/></g>
<g id="n278"><use href="#g" x="47" y="200"/></g>
<g id="n279"><use href="#b" x="97" y="200"/></g>
<g id="n280"><use href="#p" x="115" y="200"/></g>
<g id="n281"><use href="#g" x="126" y="200"/></g>
<g id="n282"><use href="#g" x="136" y="200"/></g>
<g id="n283"><use href="#b" x="147" y="200"/></g>
<g id="n284"><use href="#b" x="156" y="200"/></g>
<g id="n285"><use href="#b" x="167" y="200"/></g>
<g id="n286"><use href="#p" x="180" y="200"/></g>
<g id="n287"><use href="#b" x="191" y="200"/></g>
<g id="n288"><use href="#b" x="200" y="200"/></g>
<g id="n289"><use href="#b" x="213" y="200"/></g>
<g id="n290"><use href="#g" x="225" y="200"/></g>
<g id="n291"><use href="#g" x="235" y="200"/></g>
<g id="n292"><use href="#b" x="246" y="200"/></g>
<g id="n293"><use href="#p" x="257" y="200"/></g>
<g id="n294"><use href="#p" x="272" y="200"/></g>
<g id="n295"><use href="#b" x="284" y="200"/></g>
<g id="n296"><use href="#b" x="295" y="200"/></g>
<g id="n297"><use href="#p" x="310" y="200"/></g>
<g id="n298"><use href="#b" x="321" y="200"/></g>
<g id="n299"><use href="#g" x="332" y="200"/></g>
<g id="n300"><use href="#p" x="452" y="200"/></g>
<g id="n301"><use href="#p" x="482" y="200"/></g>
<g id="n302"><use href="#p" x="493" y="200"/></g>
<g id="n303"><use href="#p" x="523" y="200"/></g>
<g id="n304"><use href="#b" x="540" y="200"/></g>
<g id="n305"><use href="#p" x="557" y="200"/></g>
<g id="n306"><use href="#p" x="583" y="200"/></g>
<g id="n307"><use href="#b" x="600" y="200"/></g>
<g id="n308"><use href="#p" x="620" y="200"/></g>
<g id="n309"><use href="#b" x="640" y="200"/></g>
<g id="n310"><use href="#g" x="685" y="200"/></g>
<g id="n311"><use href="#g" x="695" y="200"/></g>
<g id="n312"><use href="#b" x="90" y="221"/></g>
<g id="n313"><use href="#b" x="100" y="221"/></g>
<g id="n314"><use href="#b" x="120" y="221"/></g>
<g id="n315"><use href="#b" x="140" y="221"/></g>
<g id="n316"><use href="#b" x="165" y="221"/></g>
<g id="n317"><use href="#b" x="180" y="221"/></g>
<g id="n318"><use href="#b" x="195" y="221"/></g>
<g id="n319"><use href="#b" x="215" y="221"/></g>
<g id="n320"><use href="#b" x="228" y="221"/></g>
<g id="n321"><use href="#b" x="240" y="221"/></g>
<g id="n322"><use href="#b" x="255" y="221"/></g>
<g id="n323"><use href="#b" x="275" y="221"/></g>
<g id="n324"><use href="#b" x="290" y="221"/></g>
<g id="n325"><use href="#b" x="305" y="221"/></g>
<g id="n326"><use href="#b" x="320" y="221"/></g>
<g id="n327"><use href="#b" x="335" y="221"/></g>
<g id="n328"><use href="#b" x="350" y="221"/></g>
<g id="n329"><use href="#b" x="362" y="221"/></g>
<g id="n330"><use href="#b" x="372" y="221"/></g>
<g id="n331"><use href="#b" x="382" y="221"/></g>
<g id="n332"><use href="#b" x="393" y="221"/></g>
<g id="n333"><use href="#b" x="403" y="221"/></g>
<g id="n334"><use href="#b" x="412" y="221"/></g>
<g id="n335"><use href="#b" x="422" y="221"/></g>
<g id="n336"><use href="#b" x="431" y="221"/></g>
<g id="n337"><use href="#b" x="441" y="221"/></g>
<g id="n338"><use href="#b" x="450" y="221"/></g>
<g id="n339"><use href="#b" x="460" y="221"/></g>
<g id="n340"><use href="#b" x="469" y="221"/></g>
<g id="n341"><use href="#b" x="479" y="221"/></g>
<g id="n342"><use href="#b" x="488" y="221"/></g>
<g id="n343"><use href="#b" x="498" y="221"/></g>
<g id="n344"><use href="#b" x="507" y="221"/></g>
<g id="n345"><use href="#b" x="517" y="221"/></g>
<g id="n346"><use href="#b" x="540" y="221"/></g>
<g id="n347"><use href="#b" x="552" y="221"/></g>
<g id="n348"><use href="#b" x="575" y="221"/></g>
<g id="n349"><use href="#b" x="600" y="221"/></g>
<g id="n350"><use href="#b" x="620" y="221"/></g>
<g id="n351"><use href="#b" x="640" y="221"/></g>
<g id="n352"><use href="#b" x="658" y="221"/></g>
<g id="n353"><use href="#b" x="670" y="221"/></g>
<g id="n354"><use href="#p" x="145" y="242"/></g>
<g id="n355"><use href="#b" x="180" y="242"/></g>
<g id="n356"><use href="#b" x="205" y="242"/></g>
<g id="n357"><use href="#p" x="245" y="242"/></g>
<g id="n358"><use href="#g" x="282" y="242"/></g>
<g id="n359"><use href="#p" x="300" y="242"/></g>
<g id="n360"><use href="#p" x="322" y="242"/></g>
<g id="n361"><use href="#b" x="350" y="242"/></g>
<g id="n362"><use href="#p" x="368" y="242"/></g>
<g id="n363"><use href="#b" x="378" y="242"/></g>
<g id="n364"><use href="#b" x="388" y="242"/></g>
<g id="n365"><use href="#p" x="405" y="242"/></g>
<g id="n366"><use href="#g" x="422" y="242"/></g>
<g id="n367"><use href="#g" x="432" y="242"/></g>
<g id="n368"><use href="#g" x="443" y="242"/></g>
<g id="n369"><use href="#p" x="455" y="242"/></g>
<g id="n370"><use href="#g" x="467" y="242"/></g>
<g id="n371"><use href="#b" x="474" y="242"/></g>
<g id="n372"><use href="#b" x="483" y="242"/></g>
<g id="n373"><use href="#p" x="494" y="242"/></g>
<g id="n374"><use href="#p" x="512" y="242"/></g>
<g id="n375"><use href="#b" x="533" y="242"/></g>
<g id="n376"><use href="#b" x="543" y="242"/></g>
<g id="n377"><use href="#g" x="553" y="242"/></g>
<g id="n378"><use href="#p" x="580" y="242"/></g>
<g id="n379"><use href="#b" x="600" y="242"/></g>
<g id="n380"><use href="#p" x="672" y="242"/></g>
<g id="n381"><use href="#p" x="690" y="242"/></g>
<g id="n382"><use href="#b" x="128" y="263"/></g>
<g id="n383"><use href="#b" x="145" y="263"/></g>
<g id="n384"><use href="#b" x="180" y="263"/></g>
<g id="n385"><use href="#b" x="220" y="263"/></g>
<g id="n386"><use href="#b" x="265" y="263"/></g>
<g id="n387"><use href="#b" x="300" y="263"/></g>
<g id="n388"><use href="#b" x="320" y="263"/></g>
<g id="n389"><use href="#b" x="340" y="263"/></g>
<g id="n390"><use href="#b" x="365" y="263"/></g>
<g id="n391"><use href="#b" x="374" y="263"/></g>
<g id="n392"><use href="#b" x="393" y="263"/></g>
<g id="n393"><use href="#b" x="401" y="263"/></g>
<g id="n394"><use href="#b" x="409" y="263"/></g>
<g id="n395"><use href="#b" x="417" y="263"/></g>
<g id="n396"><use href="#b" x="430" y="263"/></g>
<g id="n397"><use href="#b" x="439" y="263"/></g>
<g id="n398"><use href="#b" x="448" y="263"/></g>
<g id="n399"><use href="#b" x="457" y="263"/></g>
<g id="n400"><use href="#b" x="467" y="263"/></g>
<g id="n401"><use href="#b" x="476" y="263"/></g>
<g id="n402"><use href="#b" x="485" y="263"/></g>
<g id="n403"><use href="#b" x="494" y="263"/></g>
<g id="n404"><use href="#b" x="503" y="263"/></g>
<g id="n405"><use href="#b" x="512" y="263"/></g>
<g id="n406"><use href="#b" x="521" y="263"/></g>
<g id="n407"><use href="#b" x="547" y="263"/></g>
<g id="n408"><use href="#b" x="580" y="263"/></g>
<g id="n409"><use href="#b" x="590" y="263"/></g>
<g id="n410"><use href="#b" x="610" y="263"/></g>
<g id="n411"><use href="#b" x="620" y="263"/></g>
<g id="n412"><use href="#b" x="668" y="263"/></g>
<g id="n413"><use href="#b" x="680" y="263"/></g>
<g id="n414"><use href="#b" x="692" y="263"/></g>
<g id="n415"><use href="#b" x="704" y="263"/></g>
<g id="n416"><use href="#b" x="85" y="285"/></g>
<g id="n417"><use href="#p" x="128" y="285"/></g>
<g id="n418"><use href="#g" x="145" y="285"/></g>
<g id="n419"><use href="#b" x="180" y="285"/></g>
<g id="n420"><use href="#b" x="205" y="285"/></g>
<g id="n421"><use href="#g" x="222" y="285"/></g>
<g id="n422"><use href="#p" x="272" y="285"/></g>
<g id="n423"><use href="#b" x="320" y="285"/></g>
<g id="n424"><use href="#p" x="368" y="285"/></g>
<g id="n425"><use href="#g" x="380" y="285"/></g>
<g id="n426"><use href="#g" x="390" y="285"/></g>
<g id="n427"><use href="#g" x="400" y="285"/></g>
<g id="n428"><use href="#b" x="410" y="285"/></g>
<g id="n429"><use href="#p" x="422" y="285"/></g>
<g id="n430"><use href="#p" x="433" y="285"/></g>
<g id="n431"><use href="#b" x="450" y="285"/></g>
<g id="n432"><use href="#p" x="487" y="285"/></g>
<g id="n433"><use href="#b" x="505" y="285"/></g>
<g id="n434"><use href="#g" x="518" y="285"/></g>
<g id="n435"><use href="#p" x="532" y="285"/></g>
<g id="n436"><use href="#b" x="543" y="285"/></g>
<g id="n437"><use href="#p" x="557" y="285"/></g>
<g id="n438"><use href="#p" x="585" y="285"/></g>
<g id="n439"><use href="#g" x="605" y="285"/></g>
<g id="n440"><use href="#g" x="628" y="285"/></g>
<g id="n441"><use href="#g" x="667" y="285"/></g>
<g id="n442"><use href="#g" x="677" y="285"/></g>
<g id="n443"><use href="#b" x="100" y="305"/></g>
<g id="n444"><use href="#b" x="128" y="305"/></g>
<g id="n445"><use href="#b" x="145" y="305"/></g>
<g id="n446"><use href="#b" x="168" y="305"/></g>
<g id="n447"><use href="#b" x="240" y="305"/></g>
<g id="n448"><use href="#b" x="275" y="305"/></g>
<g id="n449"><use href="#b" x="340" y="305"/></g>
<g id="n450"><use href="#b" x="370" y="305"/></g>
<g id="n451"><use href="#b" x="380" y="305"/></g>
<g id="n452"><use href="#b" x="390" y="305"/></g>
<g id="n453"><use href="#b" x="400" y="305"/></g>
<g id="n454"><use href="#b" x="415" y="305"/></g>
<g id="n455"><use href="#b" x="425" y="305"/></g>
<g id="n456"><use href="#b" x="440" y="305"/></g>
<g id="n457"><use href="#b" x="455" y="305"/></g>
<g id="n458"><use href="#b" x="480" y="305"/></g>
<g id="n459"><use href="#b" x="490" y="305"/></g>
<g id="n460"><use href="#b" x="500" y="305"/></g>
<g id="n461"><use href="#b" x="520" y="305"/></g>
<g id="n462"><use href="#b" x="530" y="305"/></g>
<g id="n463"><use href="#b" x="540" y="305"/></g>
<g id="n464"><use href="#b" x="550" y="305"/></g>
<g id="n465"><use href="#b" x="560" y="305"/></g>
<g id="n466"><use href="#b" x="600" y="305"/></g>
<g id="n467"><use href="#p" x="100" y="327"/></g>
<g id="n468"><use href="#g" x="118" y="327"/></g>
<g id="n469"><use href="#p" x="168" y="327"/></g>
<g id="n470"><use href="#p" x="222" y="327"/></g>
<g id="n471"><use href="#p" x="272" y="327"/></g>
<g id="n472"><use href="#b" x="340" y="327"/></g>
<g id="n473"><use href="#g" x="372" y="327"/></g>
<g id="n474"><use href="#b" x="385" y="327"/></g>
<g id="n475"><use href="#p" x="475" y="327"/></g>
<g id="n476"><use href="#g" x="505" y="327"/></g>
<g id="n477"><use href="#g" x="515" y="327"/></g>
<g id="n478"><use href="#g" x="527" y="327"/></g>
<g id="n479"><use href="#p" x="540" y="327"/></g>
<g id="n480"><use href="#b" x="560" y="327"/></g>
<g id="n481"><use href="#p" x="600" y="327"/></g>
<g id="n482"><use href="#b" x="100" y="348"/></g>
<g id="n483"><use href="#b" x="395" y="348"/></g>
<g id="n484"><use href="#b" x="440" y="348"/></g>
<g id="n485"><use href="#b" x="452" y="348"/></g>
<g id="n486"><use href="#b" x="464" y="348"/></g>
<g id="n487"><use href="#b" x="476" y="348"/></g>
<g id="n488"><use href="#b" x="488" y="348"/></g>
<g id="n489"><use href="#b" x="500" y="348"/></g>
<g id="n490"><use href="#b" x="520" y="348"/></g>
<g id="n491"><use href="#b" x="535" y="348"/></g>
<g id="n492"><use href="#b" x="548" y="348"/></g>
<g id="n493"><use href="#b" x="560" y="348"/></g>
<g id="n494"><use href="#b" x="600" y="348"/></g>
<g id="n495"><use href="#p" x="446" y="370"/></g>
<g id="n496"><use href="#p" x="462" y="370"/></g>
<g id="n497"><use href="#g" x="474" y="370"/></g>
<g id="n498"><use href="#g" x="518" y="370"/></g>
<g id="n499"><use href="#p" x="547" y="370"/></g>
<g id="n500"><use href="#p" x="580" y="370"/></g>
<g id="n501"><use href="#p" x="608" y="370"/></g>
<g id="n502"><use href="#b" x="440" y="390"/></g>
<g id="n503"><use href="#b" x="452" y="390"/></g>
<g id="n504"><use href="#b" x="462" y="390"/></g>
<g id="n505"><use href="#b" x="550" y="390"/></g>
<g id="n506"><use href="#b" x="565" y="390"/></g>
<g id="n507"><use href="#b" x="580" y="390"/></g>
<g id="n508"><use href="#b" x="600" y="390"/></g>
<g id="n509"><use href="#b" x="612" y="390"/></g>
<g id="n510"><use href="#g" x="442" y="410"/></g>
<g id="n511"><use href="#g" x="462" y="410"/></g>
<g id="n512"><use href="#p" x="563" y="410"/></g>
<g id="n513"><use href="#g" x="612" y="410"/></g>
<g id="n514"><use href="#g" x="625" y="410"/></g>
<g id="n515"><use href="#b" x="557" y="432"/></g>
<g id="n516"><use href="#b" x="568" y="432"/></g>
<g id="n517"><use href="#g" x="560" y="452"/></g>
<g id="n518"><use href="#g" x="570" y="452"/></g>
</svg>
